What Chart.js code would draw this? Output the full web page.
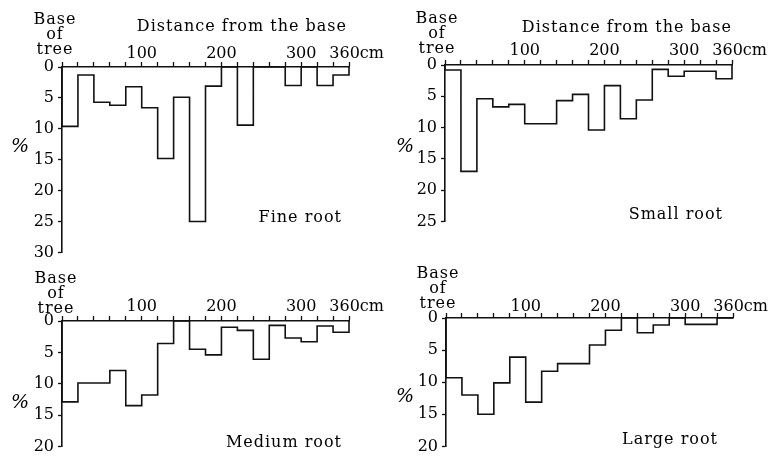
<!DOCTYPE html>
<html>
<head>
<meta charset="utf-8">
<script src="https://cdn.jsdelivr.net/npm/chart.js@4.4.0/dist/chart.umd.min.js"></script>
<style>
  html, body { margin: 0; padding: 0; background: #fff; }
  #fig { position: relative; width: 771px; height: 460px; overflow: hidden; background: #fff; }
  #fig canvas { position: absolute; }
</style>
</head>
<body>
<div id="fig"></div>
<script>
// bin edges along the distance from the tree base (cm), 20 cm classes
const binEdges = [0, 20, 40, 60, 80, 100, 120, 140, 160, 180, 200, 220, 240, 260, 280, 300, 320, 340, 360];

// % of root quantity in each 20 cm class
const fineRoot   = [9.6, 1.3, 5.7, 6.2, 3.2, 6.6, 14.8, 4.9, 25.0, 3.1, 0, 9.4, 0, 0, 3.0, 0, 3.0, 1.3];
const smallRoot  = [0.8, 17.0, 5.4, 6.7, 6.3, 9.4, 9.4, 5.7, 4.7, 10.4, 3.3, 8.6, 5.6, 0.7, 1.8, 1.0, 1.0, 2.2];
const mediumRoot = [12.9, 9.9, 9.9, 7.9, 13.5, 11.8, 3.6, 0, 4.5, 5.4, 1.0, 1.5, 6.1, 0.7, 2.7, 3.3, 0.8, 1.8];
const largeRoot  = [9.3, 12.0, 15.0, 10.1, 6.1, 13.1, 8.3, 7.1, 7.1, 4.2, 1.9, 0, 2.3, 1.1, 0, 1.0, 1.0, 0];

// labelled ticks on the distance axis (the 0 end is marked "Base of tree" above it)
const xTickValues = [100, 200, 300, 360];
const xTickLabels = ['100', '200', '300', '   360cm'];
const originLabel = ['Base', 'of', 'tree'];

const xTitle = 'Distance from the base';
const yTitle = '%';

const FONT = 'DejaVu Serif';

// one entry per panel: canvas placement, plot area inside it, text spots
const panels = [
  { name: 'Fine root', values: fineRoot, yMax: 30, showTitle: true, tickPad: -1.5,
    box: [0, 0, 385, 266], area: [62, 67, 349, 256],
    nameAt: [342, 218], pctAt: [20, 147], titleAt: [347, 27], baseAt: [55, 54] },
  { name: 'Small root', values: smallRoot, yMax: 25, showTitle: true, tickPad: -0.5,
    box: [385, 0, 386, 235], area: [60, 65, 347, 223],
    nameAt: [338, 215], pctAt: [20, 147], titleAt: [347, 28], baseAt: [52, 53] },
  { name: 'Medium root', values: mediumRoot, yMax: 20, showTitle: false, tickPad: -0.5,
    box: [0, 262, 385, 198], area: [62, 59, 349, 186],
    nameAt: [342, 181], pctAt: [20, 141], baseAt: [56, 51] },
  { name: 'Large root', values: largeRoot, yMax: 20, showTitle: false, tickPad: -3.5,
    box: [385, 262, 386, 198], area: [61, 56, 348, 185],
    nameAt: [333, 178], pctAt: [20, 135], baseAt: [53, 46] }
];

// step outline: start at the axis, one point per class start, back to the axis at the end
function stepPoints(values) {
  const pts = [{ x: binEdges[0], y: 0 }];
  for (let i = 0; i < values.length; i++) {
    pts.push({ x: binEdges[i], y: values[i] });
  }
  pts.push({ x: binEdges[binEdges.length - 1], y: 0 });
  return pts;
}

// texts that are not tied to a numbered tick
const textPlugin = {
  id: 'panelText',
  afterDraw(chart, args, opts) {
    const ctx = chart.ctx;
    const p = opts.panel;
    ctx.save();
    ctx.fillStyle = '#000';
    ctx.textBaseline = 'middle';
    ctx.letterSpacing = '1px';
    ctx.font = '16px "' + FONT + '"';
    ctx.textAlign = 'right';
    ctx.fillText(p.name, p.nameAt[0], p.nameAt[1]);
    if (p.showTitle) {
      ctx.fillText(xTitle, p.titleAt[0], p.titleAt[1]);
    }
    // "Base / of / tree" over the origin
    ctx.textAlign = 'center';
    ctx.textBaseline = 'alphabetic';
    const n = originLabel.length;
    originLabel.forEach(function(line, i) {
      ctx.fillText(line, p.baseAt[0], p.baseAt[1] - (n - 1 - i) * 15);
    });
    ctx.letterSpacing = '0px';
    ctx.textBaseline = 'middle';
    ctx.font = 'italic 19px "' + FONT + '"';
    ctx.fillText(yTitle, p.pctAt[0], p.pctAt[1]);
    ctx.restore();
  }
};

const fig = document.getElementById('fig');

panels.forEach(function(p) {
  const canvas = document.createElement('canvas');
  canvas.width = p.box[2];
  canvas.height = p.box[3];
  canvas.style.left = p.box[0] + 'px';
  canvas.style.top = p.box[1] + 'px';
  canvas.style.width = p.box[2] + 'px';
  canvas.style.height = p.box[3] + 'px';
  fig.appendChild(canvas);

  const L = p.area[0], T = p.area[1], R = p.area[2], B = p.area[3];

  new Chart(canvas.getContext('2d'), {
    type: 'line',
    data: {
      datasets: [{
        data: stepPoints(p.values),
        stepped: true,
        borderColor: '#111',
        borderWidth: 1.6,
        pointRadius: 0,
        fill: false,
        tension: 0,
        clip: false
      }]
    },
    options: {
      responsive: false,
      animation: false,
      devicePixelRatio: 1,
      layout: { padding: { left: 0, top: 0, right: p.box[2] - R, bottom: p.box[3] - B } },
      plugins: {
        legend: { display: false },
        tooltip: { enabled: false },
        panelText: { panel: p }
      },
      scales: {
        x: {
          type: 'linear',
          position: 'top',
          min: 0,
          max: 360,
          afterFit: function(scale) { scale.height = T; },
          ticks: {
            stepSize: 20,
            autoSkip: false,
            maxRotation: 0,
            padding: p.tickPad,
            color: '#000',
            font: { family: FONT, size: 16 },
            callback: function(value) {
              const k = xTickValues.indexOf(value);
              return k >= 0 ? xTickLabels[k] : '';
            }
          },
          grid: { drawOnChartArea: false, tickLength: 5, tickColor: '#111', tickWidth: 1.3 },
          border: { color: '#111', width: 1.6 }
        },
        y: {
          reverse: true,
          min: 0,
          max: p.yMax,
          afterFit: function(scale) { scale.width = L; },
          ticks: {
            stepSize: 5,
            padding: 4,
            color: '#000',
            font: { family: FONT, size: 16 }
          },
          grid: { drawOnChartArea: false, tickLength: 4, tickColor: '#111', tickWidth: 1.3 },
          border: { color: '#111', width: 1.6 }
        }
      }
    },
    plugins: [textPlugin]
  });
});
</script>
</body>
</html>
